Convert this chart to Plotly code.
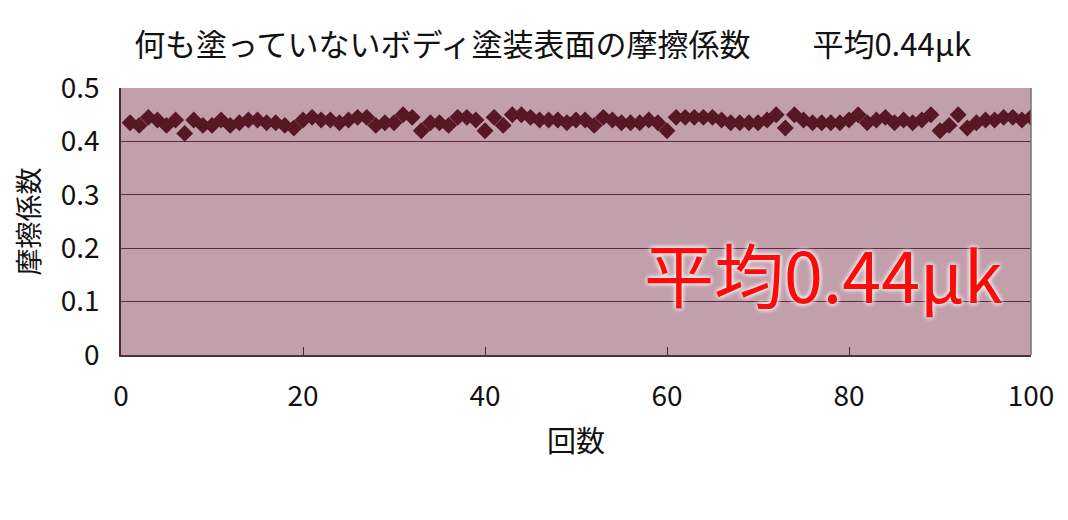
import plotly.graph_objects as go

runs = list(range(1, 101))
mu = [
    0.435, 0.43, 0.445, 0.44, 0.43, 0.44, 0.415, 0.44, 0.43, 0.43,
    0.44, 0.43, 0.435, 0.44, 0.44, 0.435, 0.435, 0.43, 0.425, 0.44,
    0.445, 0.44, 0.44, 0.435, 0.44, 0.445, 0.445, 0.43, 0.435, 0.435,
    0.45, 0.445, 0.42, 0.435, 0.435, 0.43, 0.445, 0.445, 0.44, 0.42,
    0.445, 0.43, 0.45, 0.45, 0.445, 0.44, 0.44, 0.44, 0.435, 0.44,
    0.44, 0.43, 0.445, 0.44, 0.435, 0.435, 0.435, 0.44, 0.435, 0.42,
    0.445, 0.445, 0.445, 0.445, 0.445, 0.44, 0.435, 0.435, 0.435, 0.435,
    0.44, 0.45, 0.425, 0.45, 0.44, 0.435, 0.435, 0.435, 0.435, 0.44,
    0.45, 0.435, 0.44, 0.445, 0.435, 0.44, 0.435, 0.44, 0.45, 0.42,
    0.43, 0.45, 0.425, 0.435, 0.44, 0.44, 0.445, 0.445, 0.44, 0.445,
]
x_ticks = [0, 20, 40, 60, 80, 100]
y_ticks = [0, 0.1, 0.2, 0.3, 0.4, 0.5]
y_labels = ["0", "0.1", "0.2", "0.3", "0.4", "0.5"]

title_text = "何も塗っていないボディ塗装表面の摩擦係数　　平均0.44μk"
note_text = "平均0.44μk"

font_jp = "Noto Sans CJK JP"

fig = go.Figure()
fig.add_trace(go.Scatter(
    x=runs, y=mu, mode="markers",
    marker=dict(symbol="diamond", size=13, color="#571725",
                line=dict(width=0)),
    showlegend=False,
))

fig.update_layout(
    width=1068, height=520,
    margin=dict(l=113, r=45, t=80, b=173),
    paper_bgcolor="white",
    plot_bgcolor="#c1a0ac",
    font=dict(family=font_jp, color="#111111"),
    title=dict(text=title_text, x=0.51, xanchor="center", y=0.928,
               yanchor="middle", font=dict(size=31, family=font_jp, color="#111")),
    xaxis=dict(range=[0, 100], tickvals=x_ticks, ticks="inside", ticklen=8,
               tickcolor="#4a2a33", showgrid=False, zeroline=False,
               showline=True, linecolor="#4a3038", linewidth=1.5, mirror=False,
               ticklabelstandoff=16, tickfont=dict(size=28, family=font_jp),
               title=dict(text="回数", font=dict(size=29, family=font_jp), standoff=18)),
    yaxis=dict(range=[0, 0.5], tickvals=y_ticks, ticktext=y_labels,
               showgrid=True, gridcolor="#5e2c3c", gridwidth=1.3,
               zeroline=False, showline=True, linecolor="#4a2a33", linewidth=1.5,
               ticks="", ticklabelstandoff=14, tickfont=dict(size=28, family=font_jp),
               title=dict(text="摩擦係数", font=dict(size=27, family=font_jp), standoff=18)),
)

# right border
fig.add_shape(type="line", xref="paper", yref="paper", x0=1, x1=1, y0=0, y1=1,
              line=dict(color="#7a7070", width=1.5))

fig.add_annotation(
    x=0.772, y=0.31, xref="paper", yref="paper", text=note_text, showarrow=False,
    xanchor="center", yanchor="middle",
    font=dict(size=70, color="#ff0a0a", family=font_jp,
              shadow="0px 0px 5px white, 0px 0px 5px white"),
)

fig.write_html("out.html")
